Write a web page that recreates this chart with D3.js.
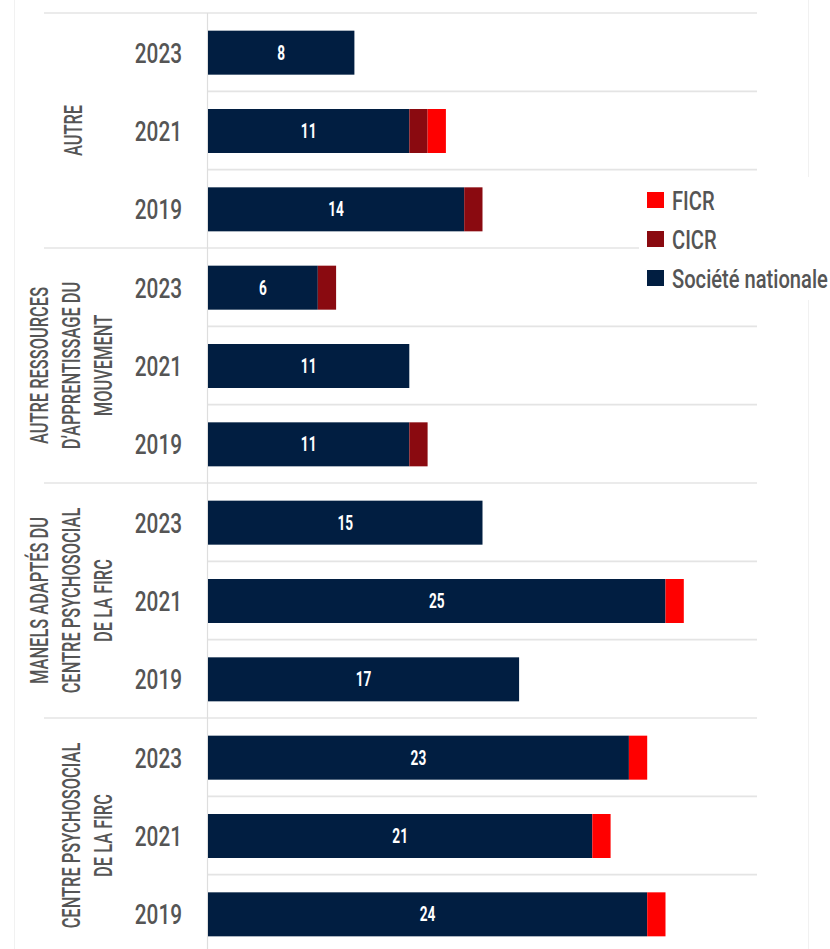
<!DOCTYPE html>
<html>
<head>
<meta charset="utf-8">
<script src="https://cdn.jsdelivr.net/npm/d3@7"></script>
<style>
  html, body { margin: 0; padding: 0; background: #ffffff; }
  svg { display: block; }
  text { font-family: "Roboto", "Noto Sans", sans-serif; }
</style>
</head>
<body>
<svg id="chart" width="830" height="949"></svg>
<script>
// ---- data ----
const groups = [
  ["AUTRE"],
  ["AUTRE RESSOURCES", "D\u2019APPRENTISSAGE DU", "MOUVEMENT"],
  ["MANELS ADAPTÉS DU", "CENTRE PSYCHOSOCIAL", "DE LA FIRC"],
  ["CENTRE PSYCHOSOCIAL", "DE LA FIRC"]
];
const years = ["2023", "2021", "2019"];
const seriesNames = ["Société nationale", "CICR", "FICR"];
const societeNationale = [8, 11, 14,  6, 11, 11,  15, 25, 17,  23, 21, 24];
const cicr             = [0,  1,  1,  1,  0,  1,   0,  0,  0,   0,  0,  0];
const ficr             = [0,  1,  0,  0,  0,  0,   0,  1,  0,   1,  1,  1];
const legendOrder = ["FICR", "CICR", "Société nationale"];

// ---- styles ----
const colors = { "Société nationale": "#011e41", "CICR": "#8a0a10", "FICR": "#ff0000" };
const textGrey = "#555555";
const gridGrey = "#e4e4e4";
const condense = { year: 0.77, group: 0.64, legend: 0.79, bar: 0.7 };

// ---- build rows ----
const rows = [];
groups.forEach((g, gi) => {
  years.forEach((y, yi) => {
    const i = gi * years.length + yi;
    rows.push({ key: gi + "-" + y, group: gi, year: y, first: yi === 0,
      "Société nationale": societeNationale[i], "CICR": cicr[i], "FICR": ficr[i] });
  });
});

const svg = d3.select("#chart");

const x = d3.scaleLinear().domain([0, 30]).range([208, 757]);
const y = d3.scaleBand().domain(rows.map(r => r.key)).range([13, 953]).padding(0);
const step = y.step();
const barH = 44;
const barOff = (step - barH) / 2 + 0.5;

// faint frame lines
svg.append("line").attr("x1", 14.5).attr("x2", 14.5).attr("y1", 0).attr("y2", 949)
  .attr("stroke", "#f1f1f1").attr("stroke-width", 1);
svg.append("line").attr("x1", 808.5).attr("x2", 808.5).attr("y1", 0).attr("y2", 949)
  .attr("stroke", "#f1f1f1").attr("stroke-width", 1);

// gridlines
svg.append("g").selectAll("line").data(rows).join("line")
  .attr("x1", d => d.first ? 44 : 207)
  .attr("x2", x(30))
  .attr("y1", d => y(d.key))
  .attr("y2", d => y(d.key))
  .attr("stroke", gridGrey).attr("stroke-width", 1.6);

// vertical axis line
svg.append("line").attr("x1", 207.5).attr("x2", 207.5).attr("y1", 13).attr("y2", 949)
  .attr("stroke", "#dedede").attr("stroke-width", 1.2);

// stacked bars
const stack = d3.stack().keys(seriesNames)(rows);
svg.append("g").selectAll("g").data(stack).join("g")
  .attr("fill", s => colors[s.key])
  .selectAll("rect").data(s => s.filter(d => d[1] > d[0])).join("rect")
  .attr("x", d => x(d[0]))
  .attr("width", d => x(d[1]) - x(d[0]))
  .attr("y", d => y(d.data.key) + barOff)
  .attr("height", barH);

// bar labels (Société nationale segment)
svg.append("g").selectAll("text").data(rows).join("text")
  .attr("transform", d => `translate(${(x(0) + x(d["Société nationale"])) / 2},${y(d.key) + barOff + barH / 2 + 7}) scale(${condense.bar},1)`)
  .attr("text-anchor", "middle")
  .attr("fill", "#ffffff")
  .attr("font-weight", "bold")
  .attr("font-size", 19.5)
  .text(d => d["Société nationale"]);

// year labels
svg.append("g").selectAll("text").data(rows).join("text")
  .attr("transform", d => `translate(182,${y(d.key) + step / 2 + 10.5}) scale(${condense.year},1)`)
  .attr("text-anchor", "end")
  .attr("fill", textGrey)
  .attr("font-weight", 500)
  .attr("font-size", 27)
  .text(d => d.year);

// group labels (rotated)
const gl = svg.append("g");
groups.forEach((lines, gi) => {
  const top = y(gi + "-" + years[0]);
  const bottom = y(gi + "-" + years[years.length - 1]) + step;
  const cy = (top + bottom) / 2;
  const n = lines.length;
  lines.forEach((t, k) => {
    const cx = n === 1 ? 72.5 : 103 - (n - 1 - k) * 32;
    gl.append("text")
      .attr("transform", `translate(${cx + 9.2},${cy}) rotate(-90) scale(${condense.group},1)`)
      .attr("text-anchor", "middle")
      .attr("fill", textGrey)
      .attr("font-weight", 500)
      .attr("font-size", 25.7)
      .text(t);
  });
});

// legend
const lg = svg.append("g");
lg.append("rect").attr("x", 639).attr("y", 177).attr("width", 170).attr("height", 123).attr("fill", "#ffffff");
legendOrder.forEach((name, i) => {
  const cy = 200 + i * 39;
  lg.append("rect").attr("x", 647).attr("y", cy - 8).attr("width", 17).attr("height", 16)
    .attr("fill", colors[name]);
  lg.append("text")
    .attr("transform", `translate(672,${cy + 9.5}) scale(${condense.legend},1)`)
    .attr("fill", textGrey).attr("font-weight", 500).attr("font-size", 25.5)
    .text(name);
});
</script>
</body>
</html>
